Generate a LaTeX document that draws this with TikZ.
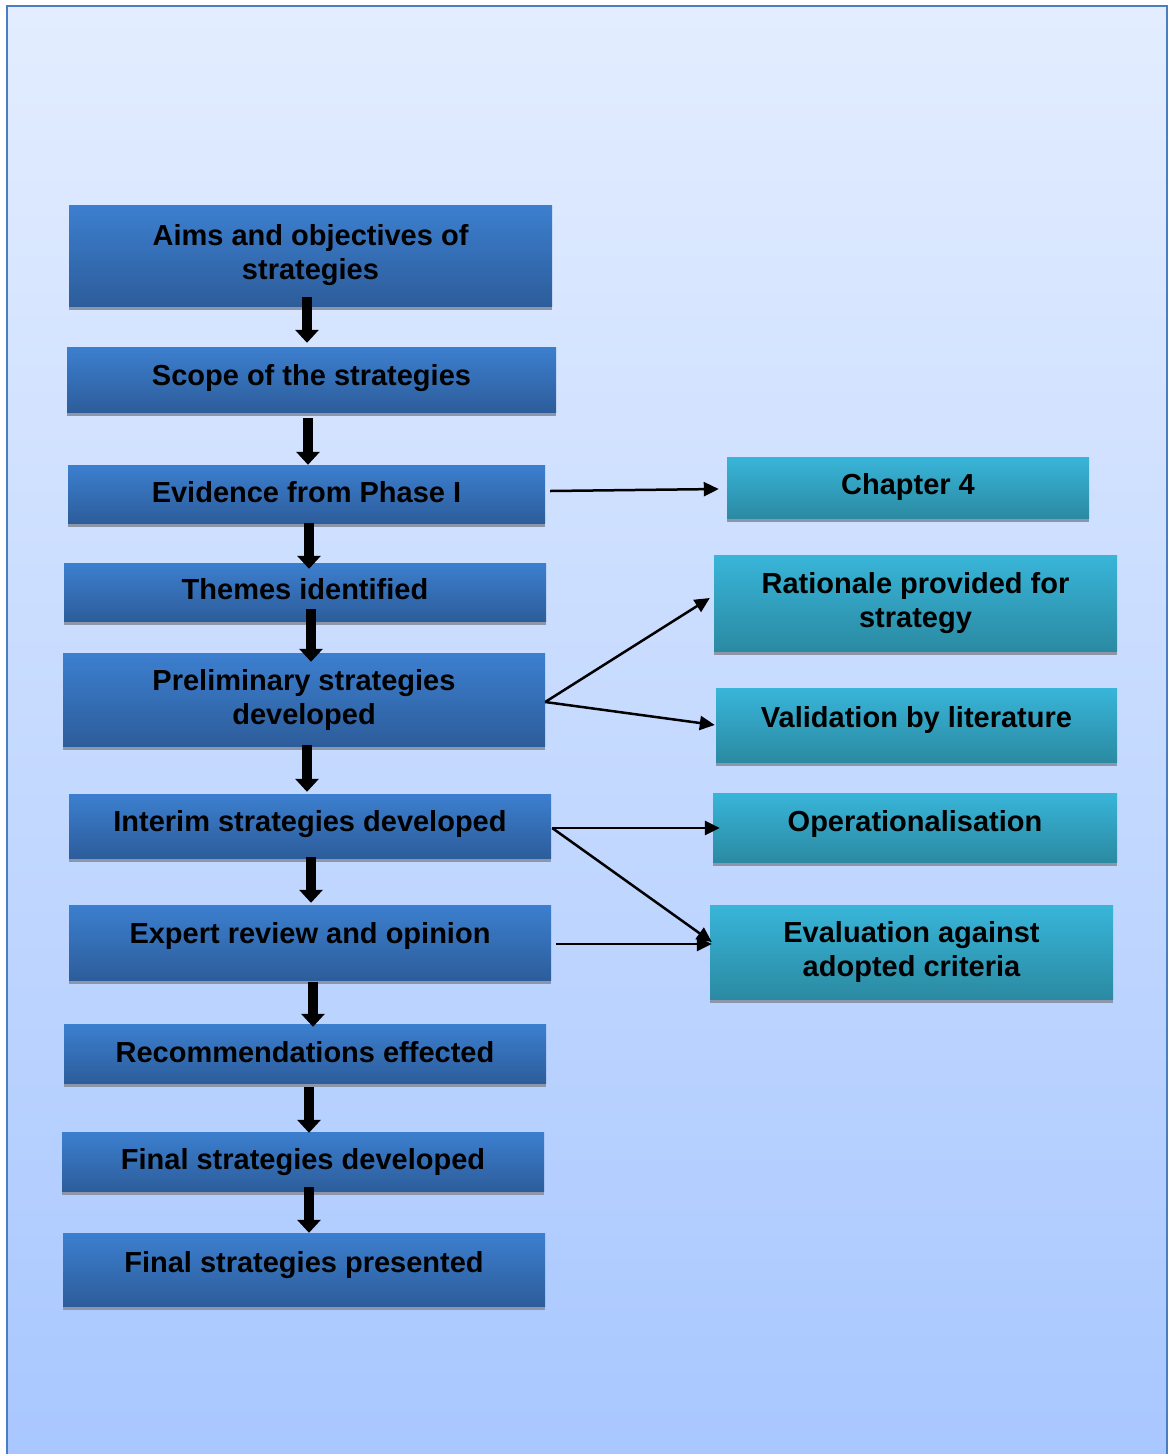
\documentclass[tikz,border=0pt]{standalone}
\usepackage{fontspec}
\setmainfont{Liberation Sans}
\usetikzlibrary{arrows.meta, shadows}

\definecolor{frameblue}{RGB}{74,126,194}
\definecolor{bgtop}{RGB}{227,237,255}
\definecolor{bgbottom}{RGB}{168,199,255}
\definecolor{steptop}{RGB}{60,127,207}
\definecolor{stepbottom}{RGB}{45,93,155}
\definecolor{sidetop}{RGB}{56,181,217}
\definecolor{sidebottom}{RGB}{43,138,162}
\definecolor{shadowgray}{RGB}{140,150,168}

\begin{document}
\begin{tikzpicture}[
    x=1pt, y=-1pt,
    box/.style={inner sep=0pt, align=center,
                font=\fontsize{29}{34}\selectfont\bfseries,
                drop shadow={shadow xshift=0pt, shadow yshift=-4pt,
                             fill=shadowgray, opacity=1}},
    stepbox/.style={box, top color=steptop, bottom color=stepbottom,
                    minimum width=482pt},
    sidebox/.style={box, top color=sidetop, bottom color=sidebottom},
    lift/.style={text height=21pt, text depth=#1},
    flow/.style={line width=10pt, -{Triangle[width=23pt, length=13pt]}},
    link/.style={line width=2.5pt, -{Triangle[width=14pt, length=15pt]}}
  ]
  % page and frame
  \begin{scope}
    \clip (0,0) rectangle (1171,1454);
    \fill[white] (0,0) rectangle (1171,1454);
    \draw[frameblue, line width=2.5pt, top color=bgtop, bottom color=bgbottom]
      (7,6) rectangle (1167,1470);
  \end{scope}
  \useasboundingbox (0,0) rectangle (1171,1454);

  % main column
  \node[stepbox, minimum width=483pt, minimum height=101pt] (aims) at (310.5,255.5)
    {Aims and objectives of\\strategies};
  \node[stepbox, lift=10pt, minimum width=489pt, minimum height=65pt] (scope)
    at (311.5,379.5) {Scope of the strategies};
  \node[stepbox, lift=4pt, minimum width=477pt, minimum height=58pt] (evidence)
    at (306.5,494) {Evidence from Phase I};
  \node[stepbox, lift=6pt, minimum height=58pt] (themes) at (305,592) {Themes identified};
  \node[stepbox, minimum height=93pt] (prelim) at (304,699.5)
    {Preliminary strategies\\developed};
  \node[stepbox, lift=10pt, minimum height=64pt] (interim) at (310,826)
    {Interim strategies developed};
  \node[stepbox, lift=20pt, minimum height=75pt] (expert) at (310,942.5)
    {Expert review and opinion};
  \node[stepbox, lift=4pt, minimum height=59pt] (recomm) at (305,1053.5)
    {Recommendations effected};
  \node[stepbox, lift=6pt, minimum height=59pt] (finaldev) at (303,1161.5)
    {Final strategies developed};
  \node[stepbox, lift=16pt, minimum height=73pt] (finalpres) at (304,1269.5)
    {Final strategies presented};

  % side column
  \node[sidebox, lift=8pt, minimum width=362pt, minimum height=61pt] (chapter)
    at (908,487.5) {Chapter 4};
  \node[sidebox, minimum width=403pt, minimum height=96pt] (rationale) at (915.5,603)
    {Rationale provided for\\strategy};
  \node[sidebox, lift=16pt, minimum width=401pt, minimum height=74pt] (validation)
    at (916.5,725) {Validation by literature};
  \node[sidebox, lift=14pt, minimum width=404pt, minimum height=69pt] (oper)
    at (915,827.5) {Operationalisation};
  \node[sidebox, minimum width=403pt, minimum height=94pt] (evaluation) at (911.5,952)
    {Evaluation against\\adopted criteria};

  % downward flow
  \draw[flow] ([yshift=9pt]aims.south -| 307,0) -- ([yshift=4pt]scope.north -| 307,0);
  \draw[flow] ([yshift=-6pt]scope.south -| 308,0) -- (evidence.north -| 308,0);
  \draw[flow] (evidence.south -| 309,0) -- ([yshift=-6pt]themes.north -| 309,0);
  \draw[flow] ([yshift=12pt]themes.south -| 311,0) -- ([yshift=-9pt]prelim.north -| 311,0);
  \draw[flow] ([yshift=1pt]prelim.south -| 307,0) -- ([yshift=2pt]interim.north -| 307,0);
  \draw[flow] ([yshift=1pt]interim.south -| 311,0) -- ([yshift=2pt]expert.north -| 311,0);
  \draw[flow] ([yshift=-2pt]expert.south -| 313,0) -- ([yshift=-3pt]recomm.north -| 313,0);
  \draw[flow] ([yshift=-4pt]recomm.south -| 309,0) -- ([yshift=-1pt]finaldev.north -| 309,0);
  \draw[flow] ([yshift=4pt]finaldev.south -| 309,0) -- (finalpres.north -| 309,0);

  % side links
  \draw[link] ([xshift=5pt, yshift=3pt]evidence.east)
    -- ([xshift=-8pt, yshift=-1.5pt]chapter.west);
  \coordinate (fork1) at ([yshift=-2.5pt]prelim.east);
  \draw[link] (fork1) -- ([xshift=-4pt, yshift=5pt]rationale.west);
  \draw[link] (fork1) -- ([xshift=-1pt]validation.west);
  \coordinate (fork2) at ([xshift=1pt, yshift=-2pt]interim.east);
  \draw[link] (fork2) -- ([xshift=7pt]fork2 -| oper.west);
  \draw[link] (fork2) -- ([xshift=2pt, yshift=10pt]evaluation.west);
  \draw[link] ([xshift=5pt, yshift=-1.5pt]expert.east)
    -- ([xshift=2pt, yshift=8pt]evaluation.west);
\end{tikzpicture}
\end{document}
